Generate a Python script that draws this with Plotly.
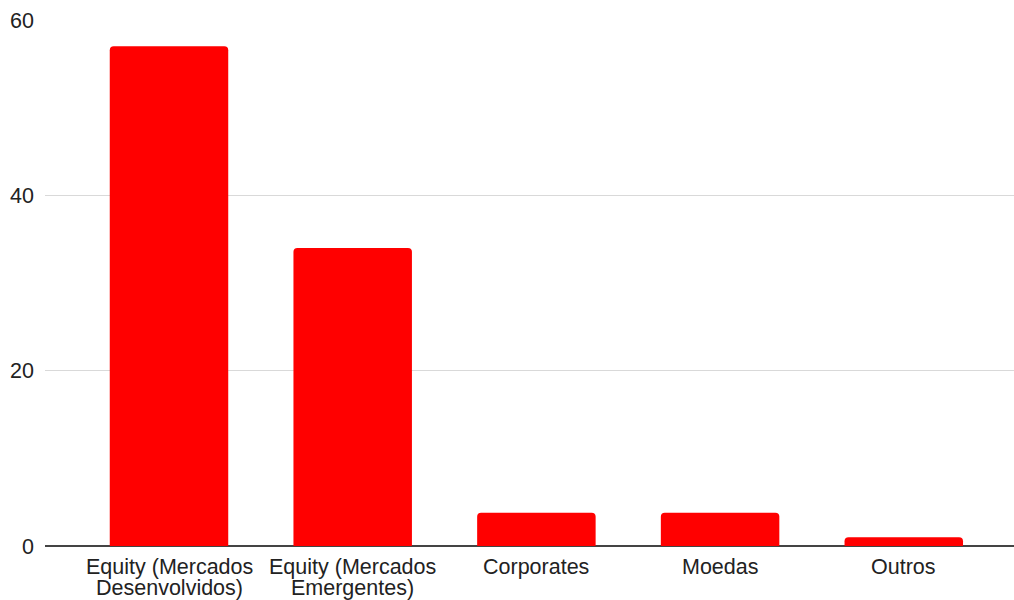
import plotly.graph_objects as go

categories = ["Equity (Mercados\nDesenvolvidos)", "Equity (Mercados\nEmergentes)", "Corporates", "Moedas", "Outros"]
values = [57, 34, 3.8, 3.8, 1.0]
y_ticks = [0, 20, 40, 60]

positions = list(range(len(categories)))

fig = go.Figure()
fig.add_trace(go.Bar(x=positions, y=values, marker=dict(color="#ff0000", line=dict(width=0)),
                     hoverinfo="skip"))

font_family = "Liberation Sans, Arial, sans-serif"
annotations = []
for i, label in enumerate(categories):
    for j, line in enumerate(label.split("\n")):
        annotations.append(dict(x=positions[i], y=0, xref="x", yref="y", text=line,
                                showarrow=False, yanchor="top", xanchor="center",
                                yshift=-7 - 21 * j,
                                font=dict(family=font_family, size=21.5, color="#222222")))

fig.update_layout(
    width=1014, height=600,
    margin=dict(l=45, r=0, t=20, b=54),
    paper_bgcolor="white", plot_bgcolor="white",
    bargap=0.355, barcornerradius=4,
    showlegend=False,
    annotations=annotations,
    font=dict(family=font_family, size=21, color="#222222"),
    xaxis=dict(range=[-0.675, 4.6], showticklabels=False, showgrid=False, zeroline=False,
               showline=False, ticks="", fixedrange=True),
    yaxis=dict(range=[0, 60], tickvals=y_ticks, ticktext=[str(v) for v in y_ticks],
               showgrid=True, gridcolor="#d9d9d9", gridwidth=1,
               zeroline=True, zerolinecolor="#444444", zerolinewidth=1.5,
               ticks="", ticklabelstandoff=10, showline=False,
               tickfont=dict(family=font_family, size=21.5, color="#222222")),
)

fig.write_html("out.html")
